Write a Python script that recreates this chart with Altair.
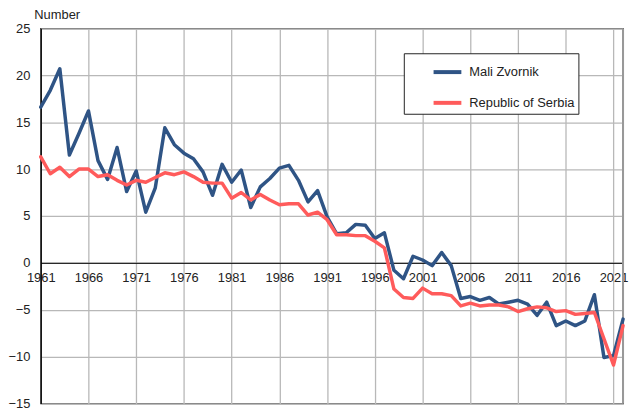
import altair as alt
import pandas as pd

years = list(range(1961, 2023))
mali_zvornik = [16.6, 18.4, 20.7, 11.5, 13.8, 16.2, 10.9, 8.9, 12.3, 7.6,
                9.8, 5.4, 8.0, 14.4, 12.6, 11.7, 11.1, 9.7, 7.2, 10.5,
                8.6, 9.9, 5.9, 8.1, 9.0, 10.1, 10.4, 8.8, 6.5, 7.7,
                4.9, 3.1, 3.2, 4.1, 4.0, 2.6, 3.2, -0.8, -1.7, 0.7,
                0.3, -0.3, 1.1, -0.3, -3.8, -3.6, -4.0, -3.7, -4.4, -4.2,
                -4.0, -4.4, -5.6, -4.2, -6.7, -6.2, -6.7, -6.2, -3.4, -10.1,
                -9.9, -6.0]
serbia = [11.3, 9.5, 10.2, 9.2, 10.0, 10.0, 9.2, 9.4, 8.8, 8.3,
          8.8, 8.6, 9.1, 9.6, 9.4, 9.7, 9.2, 8.6, 8.5, 8.5,
          6.9, 7.5, 6.7, 7.3, 6.7, 6.2, 6.3, 6.3, 5.1, 5.4,
          4.6, 3.0, 3.0, 2.9, 2.9, 2.3, 1.6, -2.8, -3.7, -3.8,
          -2.7, -3.3, -3.3, -3.5, -4.6, -4.3, -4.6, -4.5, -4.5, -4.7,
          -5.2, -4.9, -4.7, -4.8, -5.2, -5.1, -5.5, -5.4, -5.3, -8.1,
          -10.9, -6.7]
series_names = ["Mali Zvornik", "Republic of Serbia"]
series_colors = ["#2f5485", "#ff5b5b"]
x_ticks = [1961, 1966, 1971, 1976, 1981, 1986, 1991, 1996, 2001, 2006, 2011, 2016, 2021]
y_ticks = [-15, -10, -5, 0, 5, 10, 15, 20, 25]

df = pd.DataFrame({
    "year": years + years,
    "value": mali_zvornik + serbia,
    "series": [series_names[0]] * len(years) + [series_names[1]] * len(years),
})

W, H = 587, 378
FONT = "Liberation Sans"
GRID = "#b8b8b8"

lines = alt.Chart(df).mark_line(strokeWidth=3.5, strokeJoin="round", strokeCap="round").encode(
    x=alt.X("year:Q",
            scale=alt.Scale(domain=[1961, 2022], nice=False, zero=False),
            axis=alt.Axis(values=x_ticks, format="d", title=None, offset=-H * 15 / 40,
                          ticks=False, labelPadding=9, domainColor="black", domainWidth=1,
                          grid=True, gridColor=GRID, gridWidth=1.3, labelFlush=False)),
    y=alt.Y("value:Q",
            scale=alt.Scale(domain=[-15, 25], nice=False, zero=False),
            axis=alt.Axis(values=y_ticks, title="Number", titleAngle=0, titleX=-7, titleY=-10,
                          titleAlign="left", titleBaseline="alphabetic", ticks=False,
                          labelPadding=11, domainColor="black", domainWidth=1.3,
                          grid=True, gridColor=GRID, gridWidth=1.3)),
    color=alt.Color("series:N",
                    scale=alt.Scale(domain=series_names, range=series_colors),
                    legend=alt.Legend(title=None, orient="none", legendX=366, legendY=25,
                                      padding=3, strokeColor="#222", fillColor="white",
                                      symbolType="stroke", symbolSize=784, symbolStrokeWidth=4,
                                      symbolOffset=25, labelOffset=6, rowPadding=7,
                                      labelFontSize=13, labelFont=FONT, labelColor="#222",
                                      labelExpr="datum.label + '               '")),
)

border = alt.Chart(alt.Data(values=[{}])).mark_rule(color="#999999", strokeWidth=2).encode(
    x=alt.datum(2022)
)

chart = alt.layer(border, lines).properties(
    width=W, height=H,
    autosize=alt.AutoSizeParams(type="none"),
    padding={"left": 33, "top": 19, "right": 6, "bottom": 5},
).configure_view(
    stroke="black", strokeWidth=1.3
).configure_axis(
    labelFont=FONT, labelFontSize=13, labelColor="#222",
    titleFont=FONT, titleFontSize=13, titleFontWeight="normal", titleColor="#222",
)

chart.save("out.html", embed_options={"renderer": "svg", "actions": False})
